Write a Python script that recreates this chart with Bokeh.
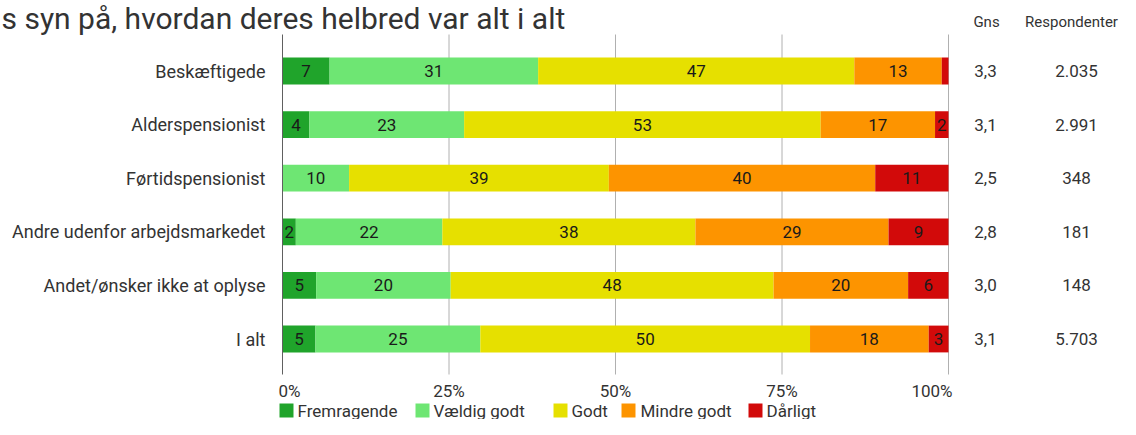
from bokeh.plotting import figure
from bokeh.models import Range1d, ColumnDataSource
from bokeh.core.properties import value
from bokeh.embed import file_html
from bokeh.resources import INLINE

# ---------------- data ----------------
title_text = "s syn på, hvordan deres helbred var alt i alt"
categories = ["Beskæftigede", "Alderspensionist", "Førtidspensionist",
              "Andre udenfor arbejdsmarkedet", "Andet/ønsker ikke at oplyse", "I alt"]
series = ["Fremragende", "Vældig godt", "Godt", "Mindre godt", "Dårligt"]
fremragende = [7, 4, 0, 2, 5, 5]
vaeldig_godt = [31, 23, 10, 22, 20, 25]
godt = [47, 53, 39, 38, 48, 50]
mindre_godt = [13, 17, 40, 29, 20, 18]
daarligt = [1, 2, 11, 9, 6, 3]
gns = ["3,3", "3,1", "2,5", "2,8", "3,0", "3,1"]
respondenter = ["2.035", "2.991", "348", "181", "148", "5.703"]
col_headers = ["Gns", "Respondenter"]
ticks = [0, 25, 50, 75, 100]
tick_labels = ["0%", "25%", "50%", "75%", "100%"]
colors = ["#20a42b", "#6ee673", "#e6e000", "#fd9400", "#d20a0a"]

# ---------------- layout ----------------
W, H = 1120, 419
X0, X100 = 282.0, 948.0            # canvas px of 0% and 100%
PPX = (X100 - X0) / 100.0
ROW0, ROWSTEP = 70.5, 53.6          # canvas px of first row centre and spacing
GRID_TOP, GRID_BOT = 34, 374


def dx(cx):
    return (cx - X0) / PPX


def dy(cy):
    return (cy - ROW0) / ROWSTEP


p = figure(width=W, height=H, output_backend="svg", toolbar_location=None,
           x_range=Range1d(dx(0), dx(W)), y_range=Range1d(dy(H), dy(0)),
           x_axis_location=None, y_axis_location=None, min_border=0)
p.grid.visible = False
p.outline_line_color = None
p.background_fill_color = "white"
p.border_fill_color = "white"

FONT = value("Roboto")
TXT = "#333333"

# gridlines
p.segment(x0=ticks[1:], x1=ticks[1:], y0=[dy(GRID_TOP)] * 4, y1=[dy(GRID_BOT)] * 4,
          line_color="#b0b0b0", line_width=1)

# stacked bars
rows = list(range(len(categories)))
vals = [fremragende, vaeldig_godt, godt, mindre_godt, daarligt]
totals = [sum(v[i] for v in vals) for i in rows]
cum = [0.0] * len(rows)
lab_x, lab_y, lab_t = [], [], []
for s, v, c in zip(series, vals, colors):
    share = [v[i] * 100.0 / totals[i] for i in rows]
    left = cum[:]
    right = [left[i] + share[i] for i in rows]
    src = ColumnDataSource(dict(y=rows, left=left, right=right))
    p.hbar(y="y", left="left", right="right", height=0.5, source=src,
           fill_color=c, line_color=None)
    for i in rows:
        if v[i] >= 2:
            lab_x.append((left[i] + right[i]) / 2)
            lab_y.append(i)
            lab_t.append(str(v[i]))
    cum = right

p.text(x=lab_x, y=lab_y, text=lab_t, text_font=FONT, text_font_size="17px",
       text_color="#1a1a1a", text_align="center", text_baseline="middle")

# 0% axis line
p.segment(x0=[0], x1=[0], y0=[dy(GRID_TOP)], y1=[dy(GRID_BOT)], line_color="#606060", line_width=1)

# category labels
p.text(x=[dx(265)] * len(rows), y=rows, text=categories, text_font=FONT,
       text_font_size="18px", text_color=TXT, text_align="right", text_baseline="middle")

# right-hand columns
p.text(x=[dx(985)] * len(rows), y=rows, text=gns, text_font=FONT,
       text_font_size="17px", text_color=TXT, text_align="center", text_baseline="middle")
p.text(x=[dx(1076)] * len(rows), y=rows, text=respondenter, text_font=FONT,
       text_font_size="17px", text_color=TXT, text_align="center", text_baseline="middle")
p.text(x=[dx(986), dx(1071)], y=[dy(21)] * 2, text=col_headers, text_font=FONT,
       text_font_size="15px", text_color=TXT, text_align="center", text_baseline="middle")

# tick labels
aligns = ["left", "center", "center", "center", "right"]
offs = [-4, 0, 0, 0, 4]
for t, lab, a, o in zip(ticks, tick_labels, aligns, offs):
    p.text(x=[t + o / PPX], y=[dy(390)], text=[lab], text_font=FONT,
           text_font_size="17px", text_color=TXT, text_align=a, text_baseline="middle")

# title (partly visible in the reference)
p.text(x=[dx(1)], y=[dy(0)], text=[title_text], text_font=FONT,
       text_font_size="30px", text_color=TXT, text_align="left", text_baseline="top")

# legend
sq_x = [279, 415, 553, 621, 748]
tx_x = [297, 433, 571, 640, 766]
leg_y = dy(410)
for s, c, sx, tx in zip(series, colors, sq_x, tx_x):
    p.scatter(x=[dx(sx + 7)], y=[leg_y], marker="square", size=14,
              fill_color=c, line_color=None)
    p.text(x=[dx(tx)], y=[leg_y], text=[s], text_font=FONT, text_font_size="17px",
           text_color=TXT, text_align="left", text_baseline="middle")

open("out.html", "w").write(file_html(p, INLINE))
